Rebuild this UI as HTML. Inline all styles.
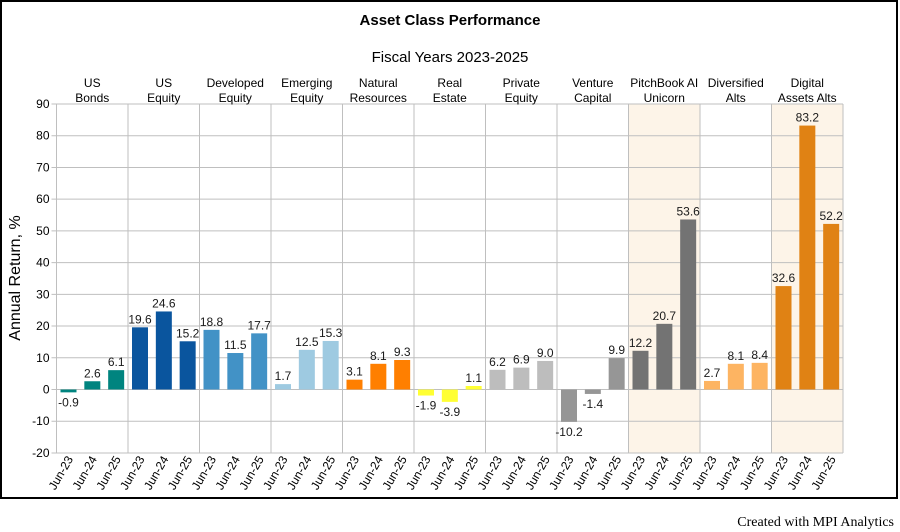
<!DOCTYPE html>
<html><head><meta charset="utf-8"><style>
body{margin:0;background:#fff}
svg{display:block;font-family:"Liberation Sans",sans-serif}
</style></head><body>
<svg width="900" height="532" xmlns="http://www.w3.org/2000/svg">
<rect x="1" y="1" width="896" height="497" fill="#fff" stroke="#000" stroke-width="2"/>
<text x="450" y="25" text-anchor="middle" font-size="15" font-weight="bold">Asset Class Performance</text>
<text x="450" y="62" text-anchor="middle" font-size="15">Fiscal Years 2023-2025</text>
<text transform="translate(20,278) rotate(-90)" text-anchor="middle" font-size="16">Annual Return, %</text>
<text x="894" y="526" text-anchor="end" font-size="14" font-family="Liberation Serif,serif">Created with MPI Analytics</text>
<g id="c"></g>
</svg>
<script>
const g=document.getElementById('c');
const L=56.5,R=843,T=104,Z=389.5,S=(389.5-104)/90,W=(R-L)/11;
const y=v=>Z-v*S;
const cats=[["US","Bonds"],["US","Equity"],["Developed","Equity"],["Emerging","Equity"],["Natural","Resources"],["Real","Estate"],["Private","Equity"],["Venture","Capital"],["PitchBook AI","Unicorn"],["Diversified","Alts"],["Digital","Assets Alts"]];
const cols=["#00847f","#0a559e","#4292c6","#9ecae1","#ff7f00","#ffff33","#bdbdbd","#969696","#737373","#fdb462","#e08214"];
const vals=[[-0.9,2.6,6.1],[19.6,24.6,15.2],[18.8,11.5,17.7],[1.7,12.5,15.3],[3.1,8.1,9.3],[-1.9,-3.9,1.1],[6.2,6.9,9.0],[-10.2,-1.4,9.9],[12.2,20.7,53.6],[2.7,8.1,8.4],[32.6,83.2,52.2]];
let h='';
[8,10].forEach(i=>{h+=`<rect x="${L+i*W}" y="${T}" width="${W}" height="${y(-20)-T}" fill="#fdf4e8"/>`;});
for(let v=-20;v<=90;v+=10){const yy=y(v);h+=`<line x1="${L-5}" x2="${R}" y1="${yy}" y2="${yy}" stroke="#bfbfbf"/><text x="${L-7}" y="${yy+4}" text-anchor="end" font-size="12">${v}</text>`;}
for(let i=0;i<=11;i++){const x=L+i*W;h+=`<line x1="${x}" x2="${x}" y1="${T}" y2="${y(-20)}" stroke="#bfbfbf"/>`;}
cats.forEach((c,i)=>{const cx=L+i*W+W/2;h+=`<text x="${cx}" y="87" text-anchor="middle" font-size="12">${c[0]}</text><text x="${cx}" y="102" text-anchor="middle" font-size="12">${c[1]}</text>`;
vals[i].forEach((v,j)=>{const bx=L+i*W+12+j*W/3;const y0=Math.min(y(v),Z),hh=Math.abs(y(v)-Z);
h+=`<rect x="${bx-8}" y="${y0}" width="16" height="${hh}" fill="${cols[i]}"/>`;
const ty=v>=0?y(v)-4:y(v)+14;h+=`<text x="${bx}" y="${ty}" text-anchor="middle" font-size="12" fill="#1a1a1a">${v.toFixed(1)}</text>`;
h+=`<text transform="translate(${bx+5},${y(-20)+6}) rotate(-60)" text-anchor="end" font-size="12">Jun-2${3+j}</text>`;});});
g.innerHTML=h;
</script>
</body></html>
